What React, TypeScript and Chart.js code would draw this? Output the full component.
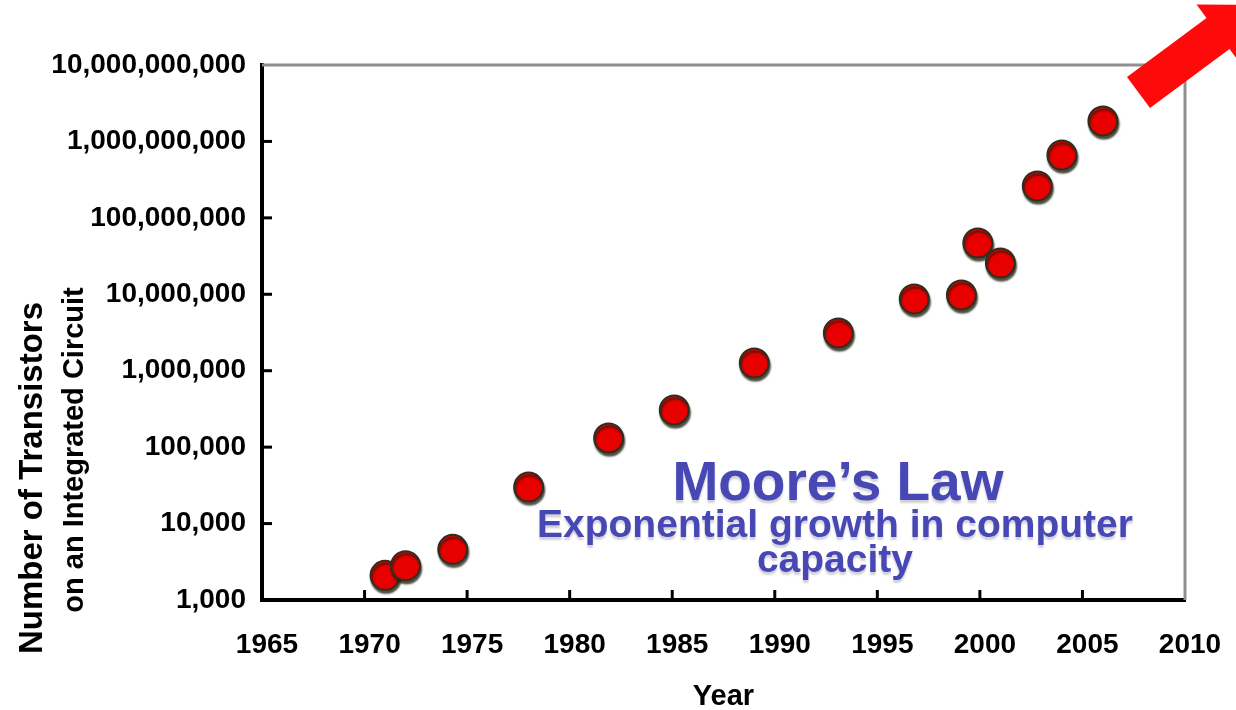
import React, { useEffect, useRef } from 'react';
import { Chart, registerables } from 'chart.js';

Chart.register(...registerables);

const years = [1971, 1972, 1974.3, 1978, 1981.9, 1985.1, 1989, 1993.1, 1996.8, 1999.1, 1999.9, 2001, 2002.8, 2004, 2006];
const transistors = [2100, 2800, 4600, 30000, 132000, 306000, 1260000, 3110000, 8700000, 9800000, 47000000, 25600000, 261000000, 664000000, 1850000000];

const xTickValues = [1965, 1970, 1975, 1980, 1985, 1990, 1995, 2000, 2005, 2010];
const yTickValues = [1e3, 1e4, 1e5, 1e6, 1e7, 1e8, 1e9, 1e10];
const yTickLabels = ['1,000', '10,000', '100,000', '1,000,000', '10,000,000', '100,000,000', '1,000,000,000', '10,000,000,000'];

const yTitleLines = ['Number of Transistors', 'on an Integrated Circuit'];
const xTitle = 'Year';
const lawTitle = 'Moore\u2019s Law';
const lawSubtitle = ['Exponential growth in computer', 'capacity'];

const FONT = '"Liberation Sans", Arial, Helvetica, sans-serif';

const decorPlugin = {
  id: 'decor',
  beforeDatasetDraw(chart: any) {
    const ctx = chart.ctx;
    ctx.save();
    ctx.shadowColor = 'rgba(30,30,10,0.75)';
    ctx.shadowOffsetX = 1;
    ctx.shadowOffsetY = 3;
    ctx.shadowBlur = 2;
  },
  afterDatasetDraw(chart: any) {
    chart.ctx.restore();
  },
  afterDraw(chart: any) {
    const { ctx, chartArea } = chart;
    const { left, top, right, bottom } = chartArea;
    const xs = chart.scales.x;
    const ys = chart.scales.y;
    ctx.save();
    // top & right frame
    ctx.strokeStyle = '#909090';
    ctx.lineWidth = 3;
    ctx.beginPath();
    ctx.moveTo(left, top);
    ctx.lineTo(right, top);
    ctx.lineTo(right, bottom);
    ctx.stroke();
    // inward tick marks
    ctx.strokeStyle = '#000';
    ctx.lineWidth = 3;
    xs.ticks.forEach((t: any) => {
      const px = xs.getPixelForValue(t.value);
      if (px <= left + 2 || px >= right - 2) return;
      ctx.beginPath();
      ctx.moveTo(px, bottom);
      ctx.lineTo(px, bottom - 10);
      ctx.stroke();
    });
    ys.ticks.forEach((t: any) => {
      const py = ys.getPixelForValue(t.value);
      if (py <= top + 2 || py >= bottom - 2) return;
      ctx.beginPath();
      ctx.moveTo(left, py);
      ctx.lineTo(left + 10, py);
      ctx.stroke();
    });

    // y axis title (two rotated lines)
    ctx.fillStyle = '#000';
    ctx.textAlign = 'center';
    ctx.textBaseline = 'alphabetic';
    const yTitleSpec = [
      { size: 33, x: 42, y: 478 },
      { size: 29, x: 83, y: 450 },
    ];
    yTitleLines.forEach((line, i) => {
      const s = yTitleSpec[i];
      ctx.save();
      ctx.font = `bold ${s.size}px ${FONT}`;
      ctx.translate(s.x, s.y);
      ctx.rotate(-Math.PI / 2);
      ctx.fillText(line, 0, 0);
      ctx.restore();
    });

    // Moore's Law annotation
    const cx = left + (right - left) * 0.624;
    ctx.fillStyle = '#4747b5';
    ctx.shadowColor = 'rgba(120,120,140,0.35)';
    ctx.shadowOffsetY = 3;
    ctx.shadowBlur = 2;
    ctx.font = `bold 55px ${FONT}`;
    ctx.fillText(lawTitle, cx, top + 435);
    ctx.font = `bold 39px ${FONT}`;
    ctx.fillText(lawSubtitle[0], cx - 3, top + 472);
    ctx.fillText(lawSubtitle[1], cx - 3, top + 507);
    ctx.shadowColor = 'transparent';

    // red arrow (decoration, top-right corner)
    const ax = 1138.5, ay = 92.5;
    const dx = 0.803, dy = -0.596;
    const nx = -0.596, ny = -0.803;
    const hw = 19.3, shaft = 99, headHw = 36, headLen = 48;
    const P = (t: number, w: number) => [ax + dx * t + nx * w, ay + dy * t + ny * w];
    const pts = [P(0, hw), P(shaft, hw), P(shaft, headHw), P(shaft + headLen, 0), P(shaft, -headHw), P(shaft, -hw), P(0, -hw)];
    ctx.fillStyle = '#ff0a0a';
    ctx.beginPath();
    pts.forEach((p, i) => (i === 0 ? ctx.moveTo(p[0], p[1]) : ctx.lineTo(p[0], p[1])));
    ctx.closePath();
    ctx.fill();
    ctx.restore();
  },
};

export default function App() {
  const ref = useRef<HTMLCanvasElement | null>(null);
  useEffect(() => {
    if (!ref.current) return;
    const chart = new Chart(ref.current, {
      type: 'scatter',
      data: {
        datasets: [
          {
            label: 'Transistors',
            data: years.map((yr, i) => ({ x: yr, y: transistors[i] })),
            backgroundColor: '#e80000',
            borderColor: '#2e2e22',
            borderWidth: 2,
            pointRadius: 14.5,
            pointHoverRadius: 14.5,
          },
        ],
      },
      options: {
        animation: false,
        responsive: false,
        devicePixelRatio: 1,
        layout: { padding: { top: 65, right: 51, left: 0, bottom: 0 } },
        plugins: { legend: { display: false }, tooltip: { enabled: false } },
        scales: {
          x: {
            type: 'linear',
            min: 1965,
            max: 2010,
            afterBuildTicks: (s: any) => {
              s.ticks = xTickValues.map((v) => ({ value: v }));
            },
            afterFit: (s: any) => {
              s.height = 110;
              s.paddingLeft = 0;
              s.paddingRight = 0;
            },
            grid: { display: false, drawTicks: false, drawOnChartArea: false },
            border: { display: true, color: '#000', width: 4 },
            ticks: {
              color: '#000',
              padding: 28,
              labelOffset: 5,
              maxRotation: 0,
              autoSkip: false,
              font: { family: FONT, size: 28, weight: 'bold' },
              callback: (v: any) => String(v),
            },
            title: {
              display: true,
              text: xTitle,
              color: '#000',
              font: { family: FONT, size: 29, weight: 'bold' },
              padding: { top: 0, bottom: -4 },
            },
          },
          y: {
            type: 'logarithmic',
            min: 1e3,
            max: 1e10,
            afterBuildTicks: (s: any) => {
              s.ticks = yTickValues.map((v) => ({ value: v }));
            },
            afterFit: (s: any) => {
              s.width = 262;
              s.paddingTop = 0;
              s.paddingBottom = 0;
            },
            grid: { display: false, drawTicks: false, drawOnChartArea: false },
            border: { display: true, color: '#000', width: 4 },
            ticks: {
              color: '#000',
              padding: 16,
              autoSkip: false,
              font: { family: FONT, size: 28, weight: 'bold' },
              callback: (v: any) => {
                const idx = yTickValues.indexOf(Number(v));
                return idx >= 0 ? yTickLabels[idx] : '';
              },
            },
          },
        },
      },
      plugins: [decorPlugin],
    });
    return () => chart.destroy();
  }, []);
  return (
    <div style={{ position: 'fixed', left: 0, top: 0, width: 1236, height: 710, background: '#fff' }}>
      <canvas ref={ref} width={1236} height={710} style={{ display: 'block' }} />
    </div>
  );
}
